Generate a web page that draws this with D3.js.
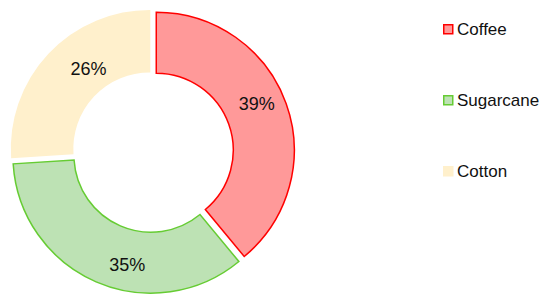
<!DOCTYPE html>
<html>
<head>
<meta charset="utf-8">
<script src="https://cdn.jsdelivr.net/npm/d3@7"></script>
<style>
  body { margin: 0; background: #fff; }
  svg { display: block; }
</style>
</head>
<body>
<svg id="chart" width="550" height="305"></svg>
<script>
const crops = ["Coffee", "Sugarcane", "Cotton"];
const shares = [39, 35, 26];
const fills = ["#ff9999", "#bde2b4", "#fff0cc"];
const strokes = ["#ff0000", "#66cc33", "#fff0cc"];
// pequenos ajustes manuais dos rótulos (px)
const labelNudge = [[-3, -9], [20, 9], [19, -5]];

const svg = d3.select("#chart");

const cx = 152.5, cy = 151.5;
const rOut = 138, rIn = 77;
const explode = 4;

const pie = d3.pie().sort(null).value(d => d.v);
const arc = d3.arc().innerRadius(rIn).outerRadius(rOut);
const labelArc = d3.arc().innerRadius(110).outerRadius(110);

const dados = crops.map((c, i) => ({ c, v: shares[i], i }));
const fatias = pie(dados);

const g = svg.append("g").attr("transform", `translate(${cx},${cy})`);

function desloca(d) {
    const a = (d.startAngle + d.endAngle) / 2;
    return [explode * Math.sin(a), -explode * Math.cos(a)];
}

// fatias destacadas
g.selectAll(".fatia")
    .data(fatias)
    .enter()
    .append("path")
    .attr("class", "fatia")
    .attr("d", arc)
    .attr("fill", d => fills[d.data.i])
    .attr("stroke", d => strokes[d.data.i])
    .attr("stroke-width", 1.5)
    .attr("transform", d => `translate(${desloca(d)})`);

// rótulos
g.selectAll(".rotulo")
    .data(fatias)
    .enter()
    .append("text")
    .attr("class", "rotulo")
    .attr("transform", d => {
        const [dx, dy] = desloca(d);
        const [x, y] = labelArc.centroid(d);
        const [nx, ny] = labelNudge[d.data.i];
        return `translate(${x + dx + nx},${y + dy + ny})`;
    })
    .attr("text-anchor", "middle")
    .attr("dy", "0.35em")
    .attr("font-family", "Arial, 'Liberation Sans', sans-serif")
    .attr("font-size", 18)
    .attr("fill", "#111")
    .text(d => d.data.v + "%");

// legenda
const y = d3.scalePoint().domain(crops).range([29, 171]);
const leg = svg.selectAll(".leg")
    .data(crops)
    .enter()
    .append("g")
    .attr("class", "leg")
    .attr("transform", d => `translate(443,${y(d)})`);

leg.append("rect")
    .attr("x", 0.75)
    .attr("y", -4.25)
    .attr("width", 9)
    .attr("height", 9)
    .attr("fill", (d, i) => fills[i])
    .attr("stroke", (d, i) => strokes[i])
    .attr("stroke-width", 1.5);

leg.append("text")
    .attr("x", 14)
    .attr("dy", "0.35em")
    .attr("font-family", "Arial, 'Liberation Sans', sans-serif")
    .attr("font-size", 17)
    .attr("fill", "#111")
    .text(d => d);
</script>
</body>
</html>
